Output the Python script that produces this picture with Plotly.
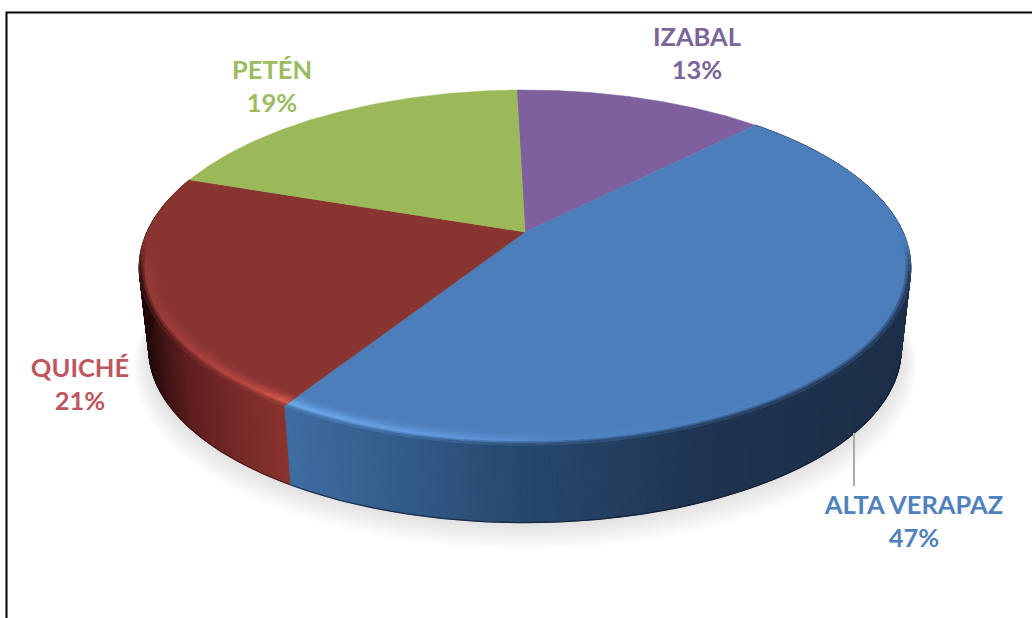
import numpy as np
import plotly.graph_objects as go

# ---- data (percent of the pie) ----
categories = ["IZABAL", "ALTA VERAPAZ", "QUICHÉ", "PETÉN"]
values = [12.7, 46.6, 21.4, 19.3]

# ---- style ----
top_colors = [(127, 96, 158), (76, 126, 187), (136, 53, 50), (155, 185, 88)]
label_colors = ["#7B6497", "#4F81BD", "#BE5560", "#9DBB61"]
label_pos = [(697, 39.5), (914, 508), (80, 370.5), (272, 72.5)]
LINE_GAP = 33
FONT = "Lato"
FONT_SIZE = 25.5
START_ANGLE = -1.5
side_stops = {
    1: [(-1, (50, 90, 135)), (-.61, (62, 108, 160)), (-.3, (50, 90, 135)), (0, (38, 70, 108)),
        (.25, (35, 62, 95)), (.45, (30, 52, 80)), (1, (28, 46, 72))],
    2: [(-1, (30, 8, 8)), (-.95, (60, 18, 18)), (-.88, (95, 30, 30)), (-.75, (118, 42, 40)),
        (-.61, (140, 52, 48)), (1, (140, 52, 48))],
}
hl_stops = {
    1: [(-1, (110, 170, 235)), (-.6, (110, 170, 235)), (-.2, (100, 155, 222)), (.1, (80, 132, 195)), (1, (76, 126, 187))],
    2: [(-1, (150, 58, 54)), (-.9, (165, 64, 60)), (-.72, (190, 75, 68)), (-.6, (228, 98, 88)), (1, (228, 98, 88))],
}

# ---- projection of the tilted disc onto the chart plane ----
CX, CY, A, B, K = 525.0, 232.0, 378.0, 170.4, 0.2
DROP, SHRINK = 83.0, 0.975


def project(theta_deg, r=1.0, s=1.0, dy=0.0):
    t = np.radians(theta_deg)
    u, v = r * np.sin(t), r * np.cos(t)
    d = 1 + K * v
    return CX + s * A * u / d, CY + dy - s * B * v / d


def interp_color(stops, x):
    xs = [p[0] for p in stops]
    return np.array([np.interp(x, xs, [p[1][i] for p in stops]) for i in range(3)])


def rgb(c):
    return "rgb(%d,%d,%d)" % tuple(int(round(float(x))) for x in c)


def poly_trace(xs, ys, color, line=0.8):
    return go.Scatter(x=xs, y=ys, mode="lines", fill="toself", fillcolor=color,
                      line=dict(color=color, width=line), hoverinfo="skip", showlegend=False)


fig = go.Figure()

fractions = np.array(values) / sum(values) * 360
edges = START_ANGLE + np.concatenate([[0], np.cumsum(fractions)])

# soft ground shadow
th = np.linspace(0, 360, 181)
for n in range(14, 0, -1):
    sx, sy = project(th, s=SHRINK * (1 + 0.003 * n), dy=DROP + 1 + 1.2 * n)
    fig.add_trace(poly_trace(sx, sy, "rgba(120,120,118,0.015)", line=0))

# extruded side, only the part facing the viewer
for i in (1, 2):
    lo, hi = edges[i], edges[i + 1]
    a = np.append(np.arange(lo, hi, 0.5), hi)
    for a0, a1 in zip(a[:-1], a[1:]):
        x0, y0 = project(a0)
        x1, y1 = project(a1)
        x2, y2 = project(a1, s=SHRINK, dy=DROP)
        x3, y3 = project(a0, s=SHRINK, dy=DROP)
        X = ((x0 + x1) / 2 - CX) / 386
        fig.add_trace(poly_trace([x0, x1, x2, x3, x0], [y0, y1, y2, y3, y0],
                                 rgb(interp_color(side_stops[i], X)), line=1.0))
    front = a[np.cos(np.radians(a)) < -0.25]
    lx, ly = project(front, s=SHRINK, dy=DROP)
    fig.add_trace(go.Scatter(x=lx, y=ly, mode="lines", hoverinfo="skip", showlegend=False,
                             line=dict(color="rgba(10,15,30,0.6)" if i == 1 else "rgba(40,10,10,0.55)", width=1.2)))

# flat top wedges
for i in range(4):
    a = np.linspace(edges[i], edges[i + 1], 90)
    x, y = project(a)
    fig.add_trace(poly_trace(np.r_[CX, x, CX], np.r_[CY, y, CY], rgb(top_colors[i]), line=0.5))

# bevel band along the front rim
rad = np.linspace(0.945, 1.0, 10)
for i in range(4):
    lo, hi = edges[i], edges[i + 1]
    a = np.linspace(lo, hi, max(2, int((hi - lo) / 2) + 1))
    base = np.array(top_colors[i], float)
    for a0, a1 in zip(a[:-1], a[1:]):
        am = (a0 + a1) / 2
        vm = np.cos(np.radians(am))
        w = float(np.clip((-0.05 - vm) / 0.2, 0, 1))
        if w <= 0:
            continue
        xm, _ = project(am)
        X = (xm - CX) / 386
        side = interp_color(side_stops[i], X) if i in side_stops else base
        hl = interp_color(hl_stops[i], X) if i in hl_stops else base
        for j in range(len(rad) - 1):
            t = (j + 0.5) / (len(rad) - 1)
            if t < 0.72:
                c = base + (hl - base) * (t / 0.72) ** 1.5
            else:
                c = hl + (side - hl) * ((t - 0.72) / 0.28)
            c = base + (c - base) * w
            xa, ya = project(a0, r=rad[j])
            xb, yb = project(a1, r=rad[j])
            xc, yc = project(a1, r=rad[j + 1])
            xd, yd = project(a0, r=rad[j + 1])
            fig.add_trace(poly_trace([xa, xb, xc, xd, xa], [ya, yb, yc, yd, ya], rgb(c), line=0.8))

# leader line for the largest slice
fig.add_trace(go.Scatter(x=[854, 854], y=[433, 486], mode="lines", hoverinfo="skip", showlegend=False,
                         line=dict(color="#ABABAB", width=2)))

# labels: name and rounded percentage
for name, val, col, (lx, ly) in zip(categories, values, label_colors, label_pos):
    fig.add_trace(go.Scatter(x=[lx, lx], y=[ly, ly + LINE_GAP], mode="text",
                             text=[f"<b>{name}</b>", f"<b>{val:.0f}%</b>"],
                             textposition="middle center", hoverinfo="skip", showlegend=False,
                             textfont=dict(family=FONT, size=FONT_SIZE, color=col)))

fig.update_layout(
    width=1032, height=618, margin=dict(l=0, r=0, t=0, b=0),
    paper_bgcolor="white", plot_bgcolor="white", showlegend=False,
    xaxis=dict(range=[0, 1032], visible=False, fixedrange=True),
    yaxis=dict(range=[618, 0], visible=False, fixedrange=True),
    shapes=[dict(type="rect", xref="x", yref="y", x0=6.5, y0=12.5, x1=1060, y1=660,
                 line=dict(color="black", width=2), fillcolor="rgba(0,0,0,0)", layer="below")],
)
fig.write_html("out.html", config=dict(displayModeBar=False),
               post_script="document.body.style.margin='0';document.body.style.overflow='hidden';")
